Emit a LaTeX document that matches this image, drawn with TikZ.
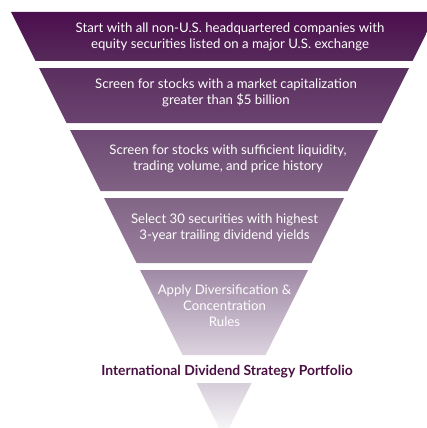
\documentclass[tikz,border=0pt]{standalone}
\usepackage{fontspec}
\setmainfont{Lato}
\usetikzlibrary{positioning}
\definecolor{plumA}{HTML}{4B0E4E}
\definecolor{plumB}{HTML}{572A5B}
\definecolor{plumC}{HTML}{5B2F5F}
\definecolor{plumD}{HTML}{6A4370}
\definecolor{plumE}{HTML}{6D4973}
\definecolor{plumF}{HTML}{806284}
\definecolor{plumG}{HTML}{826686}
\definecolor{plumH}{HTML}{987F9C}
\definecolor{plumI}{HTML}{A08AA6}
\definecolor{plumJ}{HTML}{DCD3DF}
\definecolor{plumK}{HTML}{D6CEDA}
\definecolor{titleplum}{HTML}{4A1042}
\tikzset{
     band text/.style={text=white, align=center, font=\fontsize{13.2}{16}\selectfont},
     result text/.style={text=titleplum, font=\fontsize{13.9}{16}\selectfont\bfseries},
    }

\begin{document}
\begin{tikzpicture}[x=1pt,y=-1pt]
        \useasboundingbox (0,0) rectangle (427,428);
        \clip (0,0) rectangle (427,428);

        % funnel bands, edges at slope 1/2
        \foreach \ytop/\ybot/\ctop/\cbot in {12/61/plumA/plumB, 68/123/plumC/plumD,
            130/191/plumE/plumF, 198/263/plumG/plumH, 270/355/plumI/plumJ, 383/440/plumK/white}
            \shade[top color=\ctop, bottom color=\cbot]
                ({11+0.5*(\ytop-12)},\ytop) -- ({437-0.5*(\ytop-12)},\ytop)
                -- ({437-0.5*(\ybot-12)},\ybot) -- ({11+0.5*(\ybot-12)},\ybot) -- cycle;

        \node [band text] (s1) at (230,37)  {Start with all non-U.S. headquartered companies with\\equity securities listed on a major U.S. exchange};
        \node [band text] (s2) at (226,93)  {Screen for stocks with a market capitalization\\greater than \$5 billion};
        \node [band text] (s3) at (228,159) {Screen for stocks with sufficient liquidity,\\trading volume, and price history};
        \node [band text] (s4) at (224.5,228) {Select 30 securities with highest\\3-year trailing dividend yields};
        \node [band text] (s5) at (224.5,306) {Apply Diversification \&\\Concentration\\Rules};
        \node [result text] (portfolio) at (227,372) {International Dividend Strategy Portfolio};
    \end{tikzpicture}
\end{document}
